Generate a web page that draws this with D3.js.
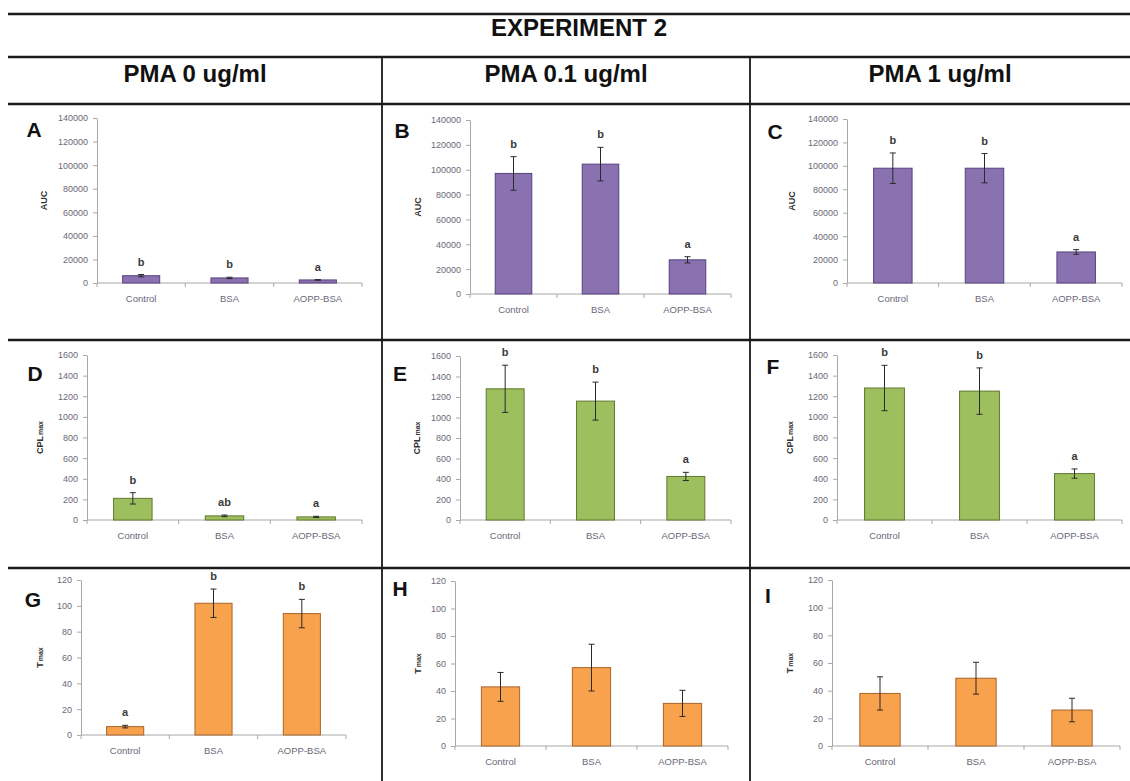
<!DOCTYPE html>
<html><head><meta charset="utf-8">
<script src="https://cdn.jsdelivr.net/npm/d3@7"></script>
<style>
body{margin:0;background:#fff;}
svg{display:block;font-family:"Liberation Sans",Arial,sans-serif;}
</style>
</head><body>
<svg id="c" width="1130" height="781"></svg>
<script>
// ---------------- DATA ----------------
const headerTitle = "EXPERIMENT 2";
const columnTitles = ["PMA 0 ug/ml", "PMA 0.1 ug/ml", "PMA 1 ug/ml"];
const categories = ["Control", "BSA", "AOPP-BSA"];
const panelLetters = ["A", "B", "C", "D", "E", "F", "G", "H", "I"];

const aucTicks  = [0, 20000, 40000, 60000, 80000, 100000, 120000, 140000];
const cplTicks  = [0, 200, 400, 600, 800, 1000, 1200, 1400, 1600];
const tmaxTicks = [0, 20, 40, 60, 80, 100, 120];

// AUC (row 1)
const aucMean_PMA0   = [6200, 4300, 2600];
const aucErr_PMA0    = [1000, 600, 300];
const aucSig_PMA0    = ["b", "b", "a"];
const aucMean_PMA01  = [97000, 104500, 27500];
const aucErr_PMA01   = [13500, 13500, 2500];
const aucSig_PMA01   = ["b", "b", "a"];
const aucMean_PMA1   = [98000, 98000, 26500];
const aucErr_PMA1    = [13000, 12500, 2000];
const aucSig_PMA1    = ["b", "b", "a"];

// CPL max (row 2)
const cplMean_PMA0   = [210, 40, 30];
const cplErr_PMA0    = [55, 8, 6];
const cplSig_PMA0    = ["b", "ab", "a"];
const cplMean_PMA01  = [1280, 1160, 425];
const cplErr_PMA01   = [230, 185, 40];
const cplSig_PMA01   = ["b", "b", "a"];
const cplMean_PMA1   = [1280, 1250, 450];
const cplErr_PMA1    = [220, 225, 45];
const cplSig_PMA1    = ["b", "b", "a"];

// T max (row 3)
const tmaxMean_PMA0  = [6.5, 102, 94];
const tmaxErr_PMA0   = [1, 11, 11];
const tmaxSig_PMA0   = ["a", "b", "b"];
const tmaxMean_PMA01 = [43, 57, 31];
const tmaxErr_PMA01  = [10.5, 17, 9.5];
const tmaxSig_PMA01  = ["", "", ""];
const tmaxMean_PMA1  = [38, 49, 26];
const tmaxErr_PMA1   = [12, 11.5, 8.5];
const tmaxSig_PMA1   = ["", "", ""];

// ---------------- STYLE / LAYOUT ----------------
const rowStyle = [
  {title: "AUC", sub: "",    ticks: aucTicks,  fill: "#8a72b0", stroke: "#56437e"},
  {title: "CPL", sub: "max", ticks: cplTicks,  fill: "#9dbf5e", stroke: "#61792f"},
  {title: "T",   sub: "max", ticks: tmaxTicks, fill: "#f8a24e", stroke: "#a8652a"}
];
const rowData = [
  [[aucMean_PMA0, aucErr_PMA0, aucSig_PMA0], [aucMean_PMA01, aucErr_PMA01, aucSig_PMA01], [aucMean_PMA1, aucErr_PMA1, aucSig_PMA1]],
  [[cplMean_PMA0, cplErr_PMA0, cplSig_PMA0], [cplMean_PMA01, cplErr_PMA01, cplSig_PMA01], [cplMean_PMA1, cplErr_PMA1, cplSig_PMA1]],
  [[tmaxMean_PMA0, tmaxErr_PMA0, tmaxSig_PMA0], [tmaxMean_PMA01, tmaxErr_PMA01, tmaxSig_PMA01], [tmaxMean_PMA1, tmaxErr_PMA1, tmaxSig_PMA1]]
];
// plot frames: [x0, x1, yTop, yBot, titleX, letterX, letterY]
const frames = [
  [[97, 362, 118, 283, 47, 34, 129], [470, 731, 120, 294, 421, 402, 130], [847, 1122, 119, 283, 795, 775, 131]],
  [[87, 362, 355, 520, 43, 35, 373], [460, 731, 356, 520, 420, 400, 373], [837, 1122, 355, 520, 793, 773, 366]],
  [[81, 346, 580, 735, 43, 33, 599], [455, 728, 581, 746, 421, 400, 588], [832, 1120, 580, 746, 793, 768, 595]]
];

const svg = d3.select("#c");

// ---------------- TABLE GRID ----------------
const hLines = [14, 57, 104, 340, 568];
svg.selectAll("line.h").data(hLines).join("line")
  .attr("x1", 8).attr("x2", 1130).attr("y1", d => d).attr("y2", d => d)
  .attr("stroke", "#1a1a1a").attr("stroke-width", 2.6);
const vLines = [382, 750];
svg.selectAll("line.v").data(vLines).join("line")
  .attr("x1", d => d).attr("x2", d => d).attr("y1", 57).attr("y2", 781)
  .attr("stroke", "#1a1a1a").attr("stroke-width", 1.8);

svg.append("text").attr("x", 579).attr("y", 36).attr("text-anchor", "middle")
  .attr("font-size", 24).attr("font-weight", "bold").attr("fill", "#111")
  .text(headerTitle);
const colCenters = [195, 566, 940];
svg.selectAll("text.col").data(columnTitles).join("text")
  .attr("x", (d, i) => colCenters[i]).attr("y", 82).attr("text-anchor", "middle")
  .attr("font-size", 24).attr("font-weight", "bold").attr("fill", "#111")
  .text(d => d);

// ---------------- PANELS ----------------
rowStyle.forEach((rs, r) => {
  rowData[r].forEach((pd, c) => {
    const [means, errs, sigs] = pd;
    const [x0, x1, yTop, yBot, tX, lX, lY] = frames[r][c];
    const g = svg.append("g");
    const ticks = rs.ticks;
    const y = d3.scaleLinear().domain([0, ticks[ticks.length - 1]]).range([yBot, yTop]);
    const x = d3.scaleBand().domain(categories).range([x0, x1]);
    const bw = x.bandwidth();

    // y axis
    const ya = g.append("g").attr("transform", `translate(${x0},0)`)
      .call(d3.axisLeft(y).tickValues(ticks).tickSize(4).tickSizeOuter(0).tickPadding(5).tickFormat(d3.format("d")));
    ya.select(".domain").attr("stroke", "#a8a8a8");
    ya.selectAll(".tick line").attr("stroke", "#a8a8a8");
    ya.selectAll(".tick text").attr("font-size", 9).attr("fill", "#6a6878")
      .attr("font-family", "Liberation Sans, Arial, sans-serif");

    // x axis
    g.append("line").attr("x1", x0).attr("x2", x1).attr("y1", yBot).attr("y2", yBot)
      .attr("stroke", "#a8a8a8");
    const bounds = categories.map(d => x(d)).concat([x1]);
    g.selectAll("line.xt").data(bounds).join("line")
      .attr("x1", d => d).attr("x2", d => d).attr("y1", yBot).attr("y2", yBot + 4)
      .attr("stroke", "#a8a8a8");
    g.selectAll("text.xl").data(categories).join("text")
      .attr("x", d => x(d) + bw / 2).attr("y", yBot + 19).attr("text-anchor", "middle")
      .attr("font-size", 9.5).attr("fill", "#6a6878").text(d => d);

    // bars
    const barW = bw * 0.42;
    g.selectAll("rect.bar").data(categories).join("rect")
      .attr("x", d => x(d) + (bw - barW) / 2)
      .attr("width", barW)
      .attr("y", (d, i) => y(means[i]))
      .attr("height", (d, i) => yBot - y(means[i]))
      .attr("fill", rs.fill).attr("stroke", rs.stroke).attr("stroke-width", 1);

    // error bars
    categories.forEach((cat, i) => {
      const cx = x(cat) + bw / 2;
      const hi = y(means[i] + errs[i]), lo = y(Math.max(0, means[i] - errs[i]));
      g.append("line").attr("x1", cx).attr("x2", cx).attr("y1", hi).attr("y2", lo)
        .attr("stroke", "#2a2a2a").attr("stroke-width", 1);
      [hi, lo].forEach(v => g.append("line").attr("x1", cx - 3).attr("x2", cx + 3)
        .attr("y1", v).attr("y2", v).attr("stroke", "#2a2a2a").attr("stroke-width", 1));
      if (sigs[i]) {
        g.append("text").attr("x", cx).attr("y", hi - 9).attr("text-anchor", "middle")
          .attr("font-size", 11).attr("font-weight", "bold").attr("fill", "#3a3a3a")
          .text(sigs[i]);
      }
    });

    // y title
    const t = g.append("text").attr("transform", `translate(${tX},${(yTop + yBot) / 2}) rotate(-90)`)
      .attr("text-anchor", "middle").attr("font-size", 9).attr("font-weight", "bold").attr("fill", "#333");
    t.append("tspan").text(rs.title);
    if (rs.sub) t.append("tspan").attr("font-size", 7).attr("dx", 1).text(rs.sub);

    // panel letter
    g.append("text").attr("x", lX).attr("y", lY).attr("text-anchor", "middle")
      .attr("dominant-baseline", "central")
      .attr("font-size", 21).attr("font-weight", "bold").attr("fill", "#111")
      .text(panelLetters[r * 3 + c]);
  });
});
</script>
</body></html>
